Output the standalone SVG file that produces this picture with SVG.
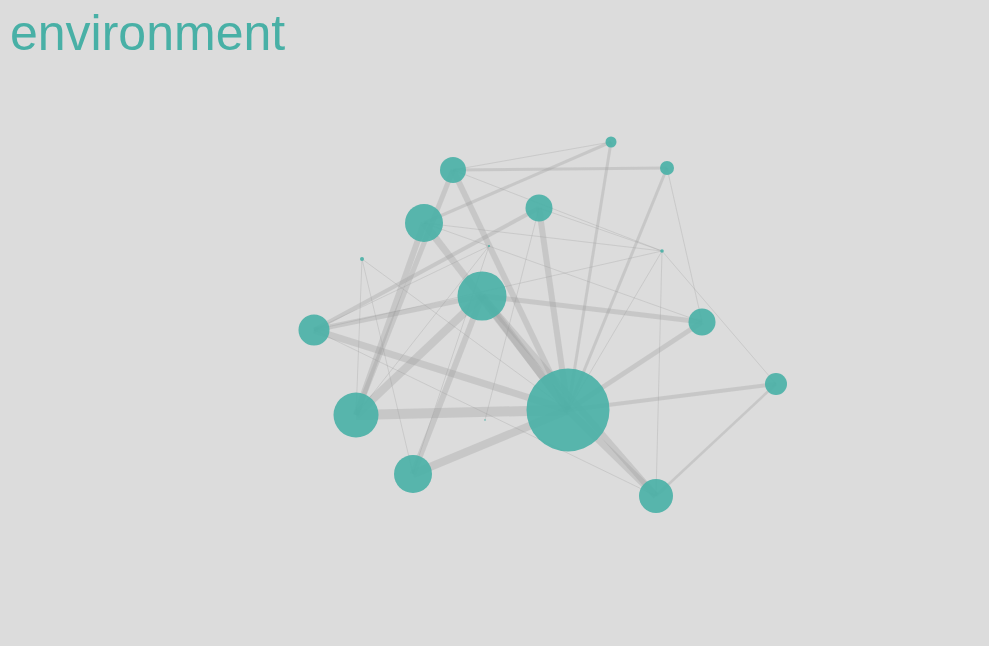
<svg xmlns="http://www.w3.org/2000/svg" width="989" height="646" viewBox="0 0 989 646">
<style>
.e{stroke:#999;stroke-opacity:0.3;stroke-linecap:butt;fill:none}
.t{stroke:#999;stroke-opacity:0.35;stroke-width:0.8;fill:none}
.n{fill:#4bb1a7;fill-opacity:0.92}
</style>
<rect width="989" height="646" fill="#dcdcdc"/>
<text x="10" y="50" font-family="Liberation Sans, Arial, sans-serif" font-size="50" fill="#48b0a6">environment</text>
<g id="edges">
<line class="t" x1="453" y1="170" x2="611" y2="142"/>
<line class="e" stroke-width="3" x1="453" y1="170" x2="667" y2="168"/>
<line class="e" stroke-width="5" x1="453" y1="170" x2="356" y2="415"/>
<line class="e" stroke-width="6" x1="453" y1="170" x2="568" y2="410"/>
<line class="t" x1="453" y1="170" x2="662" y2="251"/>
<line class="e" stroke-width="3" x1="424" y1="223" x2="611" y2="142"/>
<line class="e" stroke-width="7" x1="424" y1="223" x2="568" y2="410"/>
<line class="t" x1="424" y1="223" x2="662" y2="251"/>
<line class="t" x1="424" y1="223" x2="702" y2="322"/>
<line class="e" stroke-width="6" x1="424" y1="223" x2="356" y2="415"/>
<line class="e" stroke-width="4" x1="539" y1="208" x2="314" y2="330"/>
<line class="e" stroke-width="6" x1="539" y1="208" x2="568" y2="410"/>
<line class="t" x1="539" y1="208" x2="485" y2="420"/>
<line class="t" x1="539" y1="208" x2="662" y2="251"/>
<line class="e" stroke-width="5" x1="482" y1="296" x2="702" y2="322"/>
<line class="e" stroke-width="5" x1="482" y1="296" x2="314" y2="330"/>
<line class="e" stroke-width="8" x1="482" y1="296" x2="356" y2="415"/>
<line class="e" stroke-width="6" x1="482" y1="296" x2="413" y2="474"/>
<line class="e" stroke-width="8" x1="482" y1="296" x2="568" y2="410"/>
<line class="e" stroke-width="6" x1="482" y1="296" x2="656" y2="496"/>
<line class="t" x1="489" y1="246" x2="356" y2="415"/>
<line class="t" x1="489" y1="246" x2="413" y2="474"/>
<line class="t" x1="489" y1="246" x2="314" y2="330"/>
<line class="t" x1="314" y1="330" x2="662" y2="251"/>
<line class="e" stroke-width="3" x1="611" y1="142" x2="568" y2="410"/>
<line class="e" stroke-width="3" x1="667" y1="168" x2="568" y2="410"/>
<line class="t" x1="667" y1="168" x2="702" y2="322"/>
<line class="t" x1="662" y1="251" x2="656" y2="496"/>
<line class="t" x1="662" y1="251" x2="776" y2="384"/>
<line class="t" x1="662" y1="251" x2="568" y2="410"/>
<line class="e" stroke-width="5" x1="702" y1="322" x2="568" y2="410"/>
<line class="e" stroke-width="4" x1="776" y1="384" x2="568" y2="410"/>
<line class="e" stroke-width="2.5" x1="776" y1="384" x2="656" y2="496"/>
<line class="e" stroke-width="10" x1="356" y1="415" x2="568" y2="410"/>
<line class="e" stroke-width="8" x1="413" y1="474" x2="568" y2="410"/>
<line class="e" stroke-width="7" x1="656" y1="496" x2="568" y2="410"/>
<line class="e" stroke-width="7" x1="314" y1="330" x2="568" y2="410"/>
<line class="t" x1="362" y1="259" x2="568" y2="410"/>
<line class="t" x1="362" y1="259" x2="356" y2="415"/>
<line class="t" x1="362" y1="259" x2="413" y2="474"/>
<line class="t" x1="314" y1="330" x2="656" y2="496"/>
</g>
<g id="nA"><circle class="n" cx="611" cy="142" r="5.5"/></g>
<g id="nB"><circle class="n" cx="667" cy="168" r="7"/></g>
<g id="nC"><circle class="n" cx="453" cy="170" r="13"/></g>
<g id="nD"><circle class="n" cx="539" cy="208" r="13.5"/></g>
<g id="nE"><circle class="n" cx="424" cy="223" r="19"/></g>
<g id="nF"><circle class="n" cx="362" cy="259" r="2"/></g>
<g id="nG"><circle class="n" cx="489" cy="246" r="1"/></g>
<g id="nH"><circle class="n" cx="662" cy="251" r="1.8"/></g>
<g id="nI"><circle class="n" cx="482" cy="296" r="24.5"/></g>
<g id="nJ"><circle class="n" cx="314" cy="330" r="15.5"/></g>
<g id="nK"><circle class="n" cx="702" cy="322" r="13.5"/></g>
<g id="nL"><circle class="n" cx="776" cy="384" r="11"/></g>
<g id="nM"><circle class="n" cx="568" cy="410" r="41.5"/></g>
<g id="nN"><circle class="n" cx="356" cy="415" r="22.5"/></g>
<g id="nO"><circle class="n" cx="413" cy="474" r="19"/></g>
<g id="nP"><circle class="n" cx="656" cy="496" r="17"/></g>
<g id="nQ"><circle class="n" cx="485" cy="420" r="0.8"/></g>
</svg>
